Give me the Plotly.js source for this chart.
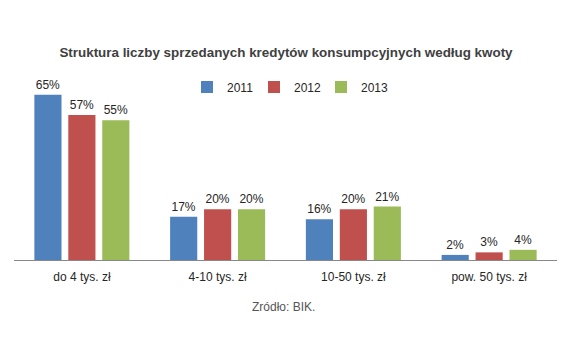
<!DOCTYPE html>
<html>
<head>
<meta charset="utf-8">
<script src="https://cdn.plot.ly/plotly-3.0.1.min.js"></script>
<style>html,body{margin:0;padding:0;background:#fff;}#chart{width:585px;height:364px;}</style>
</head>
<body>
<div id="chart"></div>
<script>
var categories = ["do 4 tys. zł", "4-10 tys. zł", "10-50 tys. zł", "pow. 50 tys. zł"];
var values2011 = [65, 17, 16, 2];
var values2012 = [57, 20, 20, 3];
var values2013 = [55, 20, 21, 4];
var seriesNames = ["2011", "2012", "2013"];
var seriesColors = ["#4F81BD", "#C0504D", "#9BBB59"];
var titleText = "Struktura liczby sprzedanych kredytów konsumpcyjnych według kwoty";
var sourceText = "Zródło: BIK.";

var FONT = "Liberation Sans, Arial, sans-serif";
var allValues = [values2011, values2012, values2013];
var traces = allValues.map(function (vals, i) {
  return {
    type: "bar",
    name: seriesNames[i],
    x: categories,
    y: vals,
    marker: {color: seriesColors[i]},
    texttemplate: "%{y}%",
    textposition: "outside",
    textfont: {family: FONT, size: 12, color: "#262626"},
    cliponaxis: false,
    hoverinfo: "none"
  };
});

var layout = {
  width: 585,
  height: 364,
  margin: {l: 14, r: 28, t: 82, b: 104},
  paper_bgcolor: "#fff",
  plot_bgcolor: "#fff",
  barmode: "group",
  bargap: 0.25,
  bargroupgap: 0.2,
  title: {
    text: "<b>" + titleText + "</b>",
    font: {family: FONT, size: 13.4, color: "#404040"},
    x: 286 / 585, xanchor: "center", y: 1 - 52/364, yanchor: "middle", yref: "container"
  },
  showlegend: true,
  legend: {
    orientation: "h",
    x: (187 - 14) / 543, xanchor: "left",
    y: (260 - 87) / 178, yanchor: "middle",
    font: {family: FONT, size: 12, color: "#262626"},
    itemwidth: 30,
    entrywidth: 22,
    traceorder: "normal",
    bgcolor: "rgba(0,0,0,0)"
  },
  xaxis: {
    type: "category",
    showline: true,
    linecolor: "#888",
    linewidth: 1,
    showgrid: false,
    ticks: "",
    ticklabelstandoff: 6,
    tickfont: {family: FONT, size: 12, color: "#262626"},
    fixedrange: true
  },
  yaxis: {
    range: [0, 70],
    visible: false,
    showgrid: false,
    zeroline: false,
    fixedrange: true
  },
  annotations: [{
    text: sourceText,
    xref: "paper", yref: "paper",
    x: (283 - 14) / 543, y: (260 - 307) / 178,
    xanchor: "center", yanchor: "middle",
    showarrow: false,
    font: {family: FONT, size: 12, color: "#555"}
  }]
};

Plotly.newPlot("chart", traces, layout, {displayModeBar: false, staticPlot: true});
</script>
</body>
</html>
